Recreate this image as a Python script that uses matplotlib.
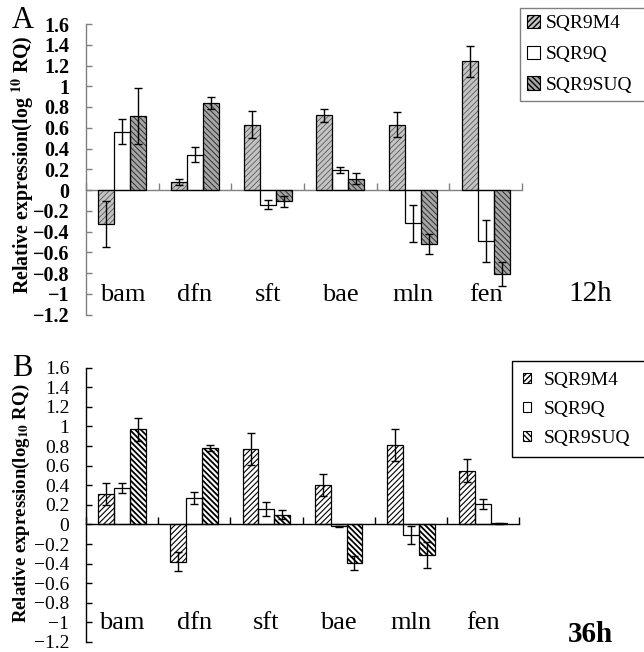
import numpy as np
import matplotlib
matplotlib.use("Agg")
import matplotlib.pyplot as plt
from matplotlib.patches import Patch

plt.rcParams['font.family'] = ['Liberation Serif', 'DejaVu Serif']
plt.rcParams['mathtext.fontset'] = 'stix'

categories = ['bam', 'dfn', 'sft', 'bae', 'mln', 'fen']
series = ['SQR9M4', 'SQR9Q', 'SQR9SUQ']

# Panel A (12h)
a_m4 = [-0.33, 0.08, 0.63, 0.72, 0.63, 1.24]
a_m4_err = [0.22, 0.03, 0.13, 0.06, 0.12, 0.15]
a_q = [0.56, 0.34, -0.14, 0.19, -0.32, -0.49]
a_q_err = [0.12, 0.07, 0.04, 0.03, 0.18, 0.20]
a_suq = [0.71, 0.84, -0.11, 0.11, -0.52, -0.81]
a_suq_err = [0.27, 0.06, 0.05, 0.05, 0.10, 0.12]

# Panel B (36h)
b_m4 = [0.31, -0.38, 0.77, 0.40, 0.81, 0.55]
b_m4_err = [0.11, 0.10, 0.16, 0.11, 0.16, 0.12]
b_q = [0.37, 0.27, 0.16, -0.02, -0.11, 0.21]
b_q_err = [0.05, 0.06, 0.07, 0.005, 0.09, 0.05]
b_suq = [0.97, 0.78, 0.10, -0.39, -0.31, 0.01]
b_suq_err = [0.12, 0.03, 0.045, 0.07, 0.13, 0.005]

yticks = [1.6, 1.4, 1.2, 1.0, 0.8, 0.6, 0.4, 0.2, 0, -0.2, -0.4, -0.6, -0.8, -1.0, -1.2]
ytick_labels = ['1.6', '1.4', '1.2', '1', '0.8', '0.6', '0.4', '0.2', '0',
                '\u22120.2', '\u22120.4', '\u22120.6', '\u22120.8', '\u22121', '\u22121.2']

W, H = 644, 652
fig = plt.figure(figsize=(W / 100, H / 100), dpi=100)

def px_axes(left, top, right, bottom):
    return fig.add_axes([left / W, 1 - bottom / H, (right - left) / W, (bottom - top) / H])

axA = px_axes(86, 24, 522, 314.5)
axB = px_axes(86, 367.7, 519, 642)

bw = 0.22
xc = np.arange(len(categories)) + 0.5

def hatched_bar(ax, x, vals, face, hatch, hcolor, hlw):
    with plt.rc_context({'hatch.linewidth': hlw, 'hatch.color': hcolor}):
        ax.bar(x, vals, width=bw, color=face, hatch=hatch, edgecolor=hcolor,
               linewidth=0, zorder=2)
    ax.bar(x, vals, width=bw, facecolor='none', edgecolor='black', linewidth=0.9, zorder=3)

styles_A = [('#c4c4c4', '//////', '#5a5a5a', 0.6),
            ('white', None, 'white', 0.5),
            ('#a6a6a6', '\\\\\\\\\\\\', '#2e2e2e', 0.7)]
styles_B = [('white', '//////', 'black', 0.8),
            ('white', None, 'white', 0.5),
            ('white', '\\\\\\\\\\\\', 'black', 1.3)]

def draw_panel(ax, data, errs, styles, axcolor, tick_bold, tick_size):
    offs = [-bw, 0, bw]
    for vals, err, st, off in zip(data, errs, styles, offs):
        hatched_bar(ax, xc + off, vals, *st)
        ax.errorbar(xc + off, vals, yerr=err, fmt='none', ecolor='black',
                    elinewidth=1.0, capsize=3, capthick=1.0, zorder=4)
    ax.set_xlim(0, 6)
    ax.set_ylim(-1.2, 1.6)
    for s in ['top', 'right']:
        ax.spines[s].set_visible(False)
    ax.spines['bottom'].set_position(('data', 0))
    ax.spines['bottom'].set_color(axcolor)
    ax.spines['left'].set_color(axcolor)
    ax.spines['bottom'].set_linewidth(1.0)
    ax.spines['left'].set_linewidth(1.0)
    ax.set_xticks(np.arange(0, 7))
    ax.set_xticklabels([])
    ax.tick_params(axis='x', direction='in', length=5, color=axcolor, width=1.0)
    ax.set_yticks(yticks)
    ax.set_yticklabels(ytick_labels, fontsize=tick_size,
                       fontweight='bold' if tick_bold else 'normal')
    ax.tick_params(axis='y', direction='in', length=4, color=axcolor, width=1.0, pad=12)
    ax.set_facecolor('none')
    for x, c in zip(xc, categories):
        ax.text(x, -1.01, c, ha='center', va='center', fontsize=19)

draw_panel(axA, [a_m4, a_q, a_suq], [a_m4_err, a_q_err, a_suq_err], styles_A,
           '#808080', True, 14.5)
draw_panel(axB, [b_m4, b_q, b_suq], [b_m4_err, b_q_err, b_suq_err], styles_B,
           'black', False, 14)

fig.text(23 / W, 1 - 165 / H, r'Relative expression(log $^{\mathbf{10}}$ RQ)',
         fontsize=14.3, fontweight='bold', rotation=90, ha='center', va='center')
fig.text(21 / W, 1 - 503 / H, r'Relative expression(log$_{\mathbf{10}}$ RQ)',
         fontsize=13.5, fontweight='bold', rotation=90, ha='center', va='center')

fig.text(23 / W, 1 - 21 / H, 'A', fontsize=22, ha='center', va='center')
fig.text(22 / W, 1 - 369 / H, 'B', fontsize=22, ha='center', va='center')
fig.text(590 / W, 1 - 294 / H, '12h', fontsize=21, ha='center', va='center')
fig.text(590 / W, 1 - 634 / H, '36h', fontsize=21, ha='center', va='center',
         fontweight='bold')

def legend(styles, box, hsize, spacing, bpad, tpad, edgecolor):
    handles = []
    for st, name in zip(styles, series):
        face, hatch, hc, hlw = st
        with plt.rc_context({'hatch.linewidth': hlw * 0.8, 'hatch.color': 'black'}):
            handles.append(Patch(facecolor=face, hatch=hatch, edgecolor='black',
                                 linewidth=0.8, label=name))
    x0, y0, x1, y1 = box
    leg = fig.legend(handles=handles, loc='upper left', mode='expand',
                     bbox_to_anchor=(x0 / W, 1 - y1 / H, (x1 - x0) / W, (y1 - y0) / H),
                     fontsize=14, handlelength=hsize, handleheight=hsize,
                     handletextpad=tpad, labelspacing=spacing, borderpad=bpad,
                     borderaxespad=0, fancybox=False, framealpha=1)
    leg.get_frame().set_edgecolor(edgecolor)
    leg.get_frame().set_linewidth(1.0)
    return leg

legend(styles_A, (520, 8, 660, 99), 0.7, 0.68, 0.35, 0.25, '#808080')
legend(styles_B, (512, 361, 660, 445), 0.45, 0.62, 0.55, 0.65, 'black')

fig.savefig('out.png', dpi=100)
